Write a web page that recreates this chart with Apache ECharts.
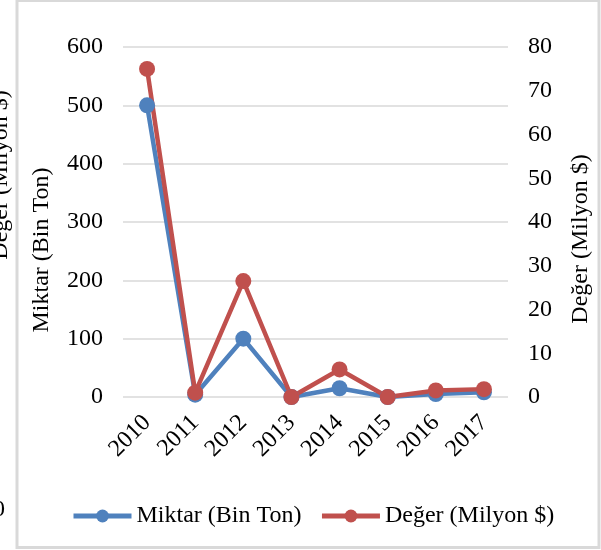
<!DOCTYPE html>
<html>
<head>
<meta charset="utf-8">
<script src="https://cdn.jsdelivr.net/npm/echarts@6/dist/echarts.min.js"></script>
<style>
  html, body { margin: 0; padding: 0; background: #fff; }
  #chart { width: 601px; height: 550px; }
</style>
</head>
<body>
<div id="chart"></div>
<script>
const years = ['2010', '2011', '2012', '2013', '2014', '2015', '2016', '2017']
const miktar = [500, 4, 100, 0, 15, 0, 5, 8]
const deger = [75, 1, 26.5, 0, 6.3, 0, 1.5, 1.8]

const font = '"Liberation Serif", "Times New Roman", serif'
const fs = 24
const blue = '#4f81bd'
const red = '#c0504d'

const chart = echarts.init(document.getElementById('chart'))

chart.setOption({
  animation: false,
  textStyle: { fontFamily: font, color: '#000' },
  graphic: [
    {
      type: 'rect',
      shape: { x: 17, y: 0.5, width: 582, height: 547 },
      style: { fill: 'none', stroke: '#d9d9d9', lineWidth: 3 },
      z: 0
    },
    {
      type: 'text',
      x: 13,
      y: 175,
      rotation: Math.PI / 2,
      style: {
        text: 'Değer (Milyon $)',
        font: fs + 'px ' + font,
        fill: '#000',
        align: 'center',
        verticalAlign: 'bottom'
      }
    },
    {
      type: 'text',
      x: -7,
      y: 498,
      style: { text: '0', font: fs + 'px ' + font, fill: '#000' }
    }
  ],
  legend: {
    bottom: 17,
    left: 66,
    itemWidth: 58,
    itemHeight: 16,
    itemGap: 18,
    lineStyle: { width: 5 },
    textStyle: { fontFamily: font, fontSize: fs, color: '#000' },
    data: ['Miktar (Bin Ton)', 'Değer (Milyon $)']
  },
  grid: { left: 123, right: 86, top: 47, bottom: 153 },
  xAxis: {
    type: 'category',
    data: years,
    boundaryGap: true,
    axisLine: { show: false },
    axisTick: { show: false },
    axisLabel: {
      rotate: 45,
      fontSize: fs,
      fontFamily: font,
      color: '#000',
      margin: 22
    }
  },
  yAxis: [
    {
      type: 'value',
      min: 0,
      max: 600,
      interval: 100,
      name: 'Miktar (Bin Ton)',
      nameLocation: 'middle',
      nameGap: 69,
      nameTextStyle: { fontSize: fs, fontFamily: font, color: '#000', padding: [0, 56, 0, 0] },
      axisLine: { show: false },
      axisTick: { show: false },
      axisLabel: { fontSize: fs, fontFamily: font, color: '#000', margin: 20 },
      splitLine: { lineStyle: { color: '#d9d9d9', width: 1.5 } }
    },
    {
      type: 'value',
      min: 0,
      max: 80,
      interval: 10,
      position: 'right',
      name: 'Değer (Milyon $)',
      nameLocation: 'middle',
      nameGap: 61,
      nameTextStyle: { fontSize: fs, fontFamily: font, color: '#000', padding: [0, 34, 0, 0] },
      axisLine: { show: false },
      axisTick: { show: false },
      axisLabel: { fontSize: fs, fontFamily: font, color: '#000', margin: 20 },
      splitLine: { show: false }
    }
  ],
  series: [
    {
      name: 'Miktar (Bin Ton)',
      type: 'line',
      yAxisIndex: 0,
      data: miktar,
      symbol: 'circle',
      symbolSize: 16,
      itemStyle: { color: blue },
      lineStyle: { color: blue, width: 4.5 }
    },
    {
      name: 'Değer (Milyon $)',
      type: 'line',
      yAxisIndex: 1,
      data: deger,
      symbol: 'circle',
      symbolSize: 16,
      itemStyle: { color: red },
      lineStyle: { color: red, width: 4.5 }
    }
  ]
})
</script>
</body>
</html>
